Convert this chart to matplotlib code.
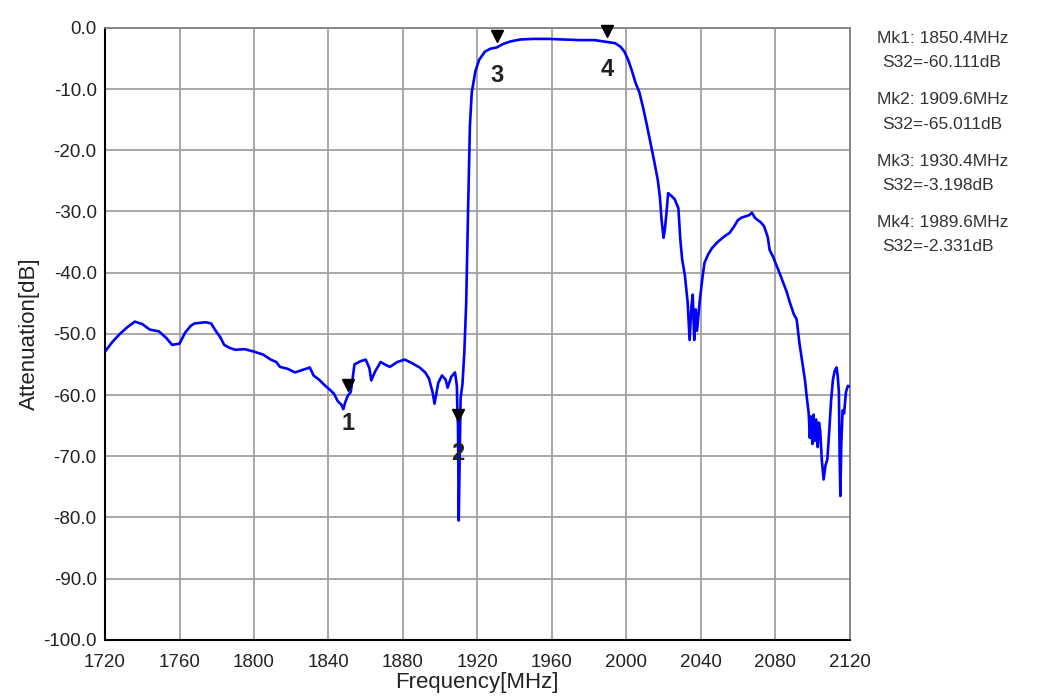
import matplotlib
matplotlib.use('Agg')
import matplotlib.pyplot as plt
from matplotlib.transforms import offset_copy

plt.rcParams['font.family'] = ['Liberation Sans', 'DejaVu Sans']

freq = [1720, 1724, 1728, 1732, 1736, 1740, 1744, 1749, 1753, 1756, 1760,
        1763, 1766, 1768, 1771, 1774, 1777, 1779, 1782, 1784, 1787, 1790,
        1795, 1800, 1805, 1809, 1812, 1814, 1818, 1822, 1825, 1828, 1830,
        1832, 1835, 1838, 1841, 1843, 1845, 1847, 1848, 1849, 1850.4, 1852,
        1854, 1857, 1860, 1862, 1863, 1865, 1868, 1871, 1873, 1877, 1881,
        1885, 1889, 1892, 1894, 1896, 1897, 1899, 1901, 1903, 1904, 1906,
        1908, 1909, 1909.3, 1909.6, 1910, 1910.5, 1911, 1912, 1913, 1914,
        1915, 1916, 1917, 1919, 1921, 1924, 1927, 1930.4, 1934, 1938, 1943,
        1950, 1958, 1966, 1975, 1983, 1989.6, 1994, 1997, 1999, 2001, 2003,
        2005, 2007, 2009, 2011, 2013, 2015, 2017, 2018, 2019, 2020, 2020.7,
        2021.5, 2022.5, 2024, 2026, 2028, 2029, 2030, 2031.5, 2033, 2034,
        2035, 2035.7, 2036.5, 2037.3, 2038, 2039.5, 2041, 2042, 2044, 2046,
        2049, 2051, 2053, 2055.5, 2058, 2060, 2062, 2064, 2066, 2067.5, 2069,
        2070.5, 2072, 2074, 2076, 2077, 2079, 2080, 2082, 2084, 2086, 2088,
        2090, 2091.5, 2093, 2094.5, 2096, 2097, 2098, 2098.6, 2099.2, 2100,
        2100.6, 2101.2, 2102, 2102.8, 2103.5, 2104.2, 2105, 2106, 2107,
        2108, 2109, 2110, 2111, 2112, 2113, 2113.6, 2114.2, 2114.6, 2115,
        2115.5, 2116.2, 2117, 2118, 2119, 2120]
atten = [-52.9, -51.3, -50.0, -48.9, -48.0, -48.4, -49.3, -49.6, -50.7, -51.8, -51.6,
         -49.8, -48.7, -48.3, -48.2, -48.1, -48.3, -49.3, -50.6, -51.8, -52.3, -52.6,
         -52.5, -52.9, -53.4, -54.2, -54.6, -55.4, -55.7, -56.3, -56.0, -55.7, -55.5,
         -56.8, -57.5, -58.4, -59.2, -59.8, -61.0, -61.6, -62.3, -61.2, -60.1, -59.5,
         -55.0, -54.5, -54.2, -55.6, -57.6, -56.2, -54.6, -55.1, -55.4, -54.6, -54.2,
         -54.8, -55.5, -56.3, -57.3, -59.6, -61.4, -58.0, -56.8, -57.5, -58.8, -57.0,
         -56.3, -58.5, -63.0, -65.0, -80.5, -70.0, -60.5, -58.2, -53.0, -45.0,
         -30.0, -16.0, -10.5, -7.0, -5.2, -3.9, -3.4, -3.2, -2.6, -2.2, -1.9,
         -1.8, -1.8, -1.9, -2.0, -2.0, -2.3, -2.5, -3.1, -3.9, -5.2, -7.0,
         -9.0, -10.5, -13.0, -15.8, -18.8, -21.8, -25.0, -27.5, -31.5, -34.3, -33.0,
         -30.5, -27.0, -27.4, -28.0, -29.5, -34.5, -37.8, -40.5, -45.0, -51.0,
         -45.5, -43.6, -51.0, -46.0, -49.5, -44.5, -40.6, -38.4, -37.0, -36.0,
         -35.0, -34.5, -34.0, -33.5, -32.4, -31.4, -31.0, -30.8, -30.6, -30.2, -31.0,
         -31.4, -31.7, -32.4, -34.2, -36.3, -37.5, -38.3, -39.8, -41.4, -43.0, -45.0,
         -46.8, -47.6, -51.5, -54.5, -57.6, -60.5, -63.0, -67.0, -63.5, -68.0,
         -63.2, -67.5, -64.0, -68.5, -64.5, -66.0, -70.5, -73.8, -71.5,
         -70.5, -66.0, -61.0, -57.5, -56.0, -55.5, -57.0, -59.5, -70.0, -76.5,
         -68.0, -62.5, -63.0, -59.5, -58.5, -58.6]

# markers
mk_num = ['1', '2', '3', '4']
mk_freq = [1850.4, 1909.6, 1930.4, 1989.6]
mk_val = [-60.111, -65.011, -3.198, -2.331]

xticks = list(range(1720, 2121, 40))
yticks = list(range(-100, 1, 10))

fig = plt.figure(figsize=(10.4, 6.97), dpi=100)
ax = fig.add_axes([0.101, 0.082, 0.716, 0.878])

ax.plot(freq, atten, color='#0000ff', lw=1.9, zorder=3)

ax.set_xlim(1720, 2120)
ax.set_ylim(-100, 0)
ax.set_xticks(xticks)
ax.set_yticks(yticks)
ax.set_yticklabels(['%.1f' % v for v in yticks])
ax.tick_params(length=0, labelsize=13.5, colors='#222222')
ax.tick_params(axis='y', pad=6)
ax.tick_params(axis='x', pad=10)
ax.grid(True, color='#a0a0a0', lw=1.3)
ax.set_axisbelow(True)
for s in ['left', 'bottom']:
    ax.spines[s].set_color('black')
    ax.spines[s].set_linewidth(1.5)
for s in ['top', 'right']:
    ax.spines[s].set_color('#808080')
    ax.spines[s].set_linewidth(1.3)

ax.set_xlabel('Frequency[MHz]', fontsize=16, color='#222222')
ax.xaxis.set_label_coords(0.5, -0.053)
ax.set_ylabel('Attenuation[dB]', fontsize=16, color='#222222', labelpad=2)

tri_tr = offset_copy(ax.transData, fig=fig, x=0, y=8, units='points')
lab_tr = offset_copy(ax.transData, fig=fig, x=0, y=-20, units='points')
for n, f, v in zip(mk_num, mk_freq, mk_val):
    ax.plot(f, v, marker='v', color='black', markersize=9, transform=tri_tr,
            zorder=4, clip_on=False)
    ax.text(f, v, n, transform=lab_tr, ha='center', va='center',
            fontsize=17, fontweight='bold', color='#222222', zorder=4)

# marker readout on the right
y0 = 0.945
for i, (f, v) in enumerate(zip(mk_freq, mk_val)):
    y = y0 - i * 0.088
    fig.text(0.843, y, 'Mk%d: %.1fMHz' % (i + 1, f), fontsize=12.5,
             color='#333333', va='center')
    fig.text(0.848, y - 0.035, 'S32=%.3fdB' % v, fontsize=12.5,
             color='#333333', va='center')

fig.savefig('out.png', dpi=100)
